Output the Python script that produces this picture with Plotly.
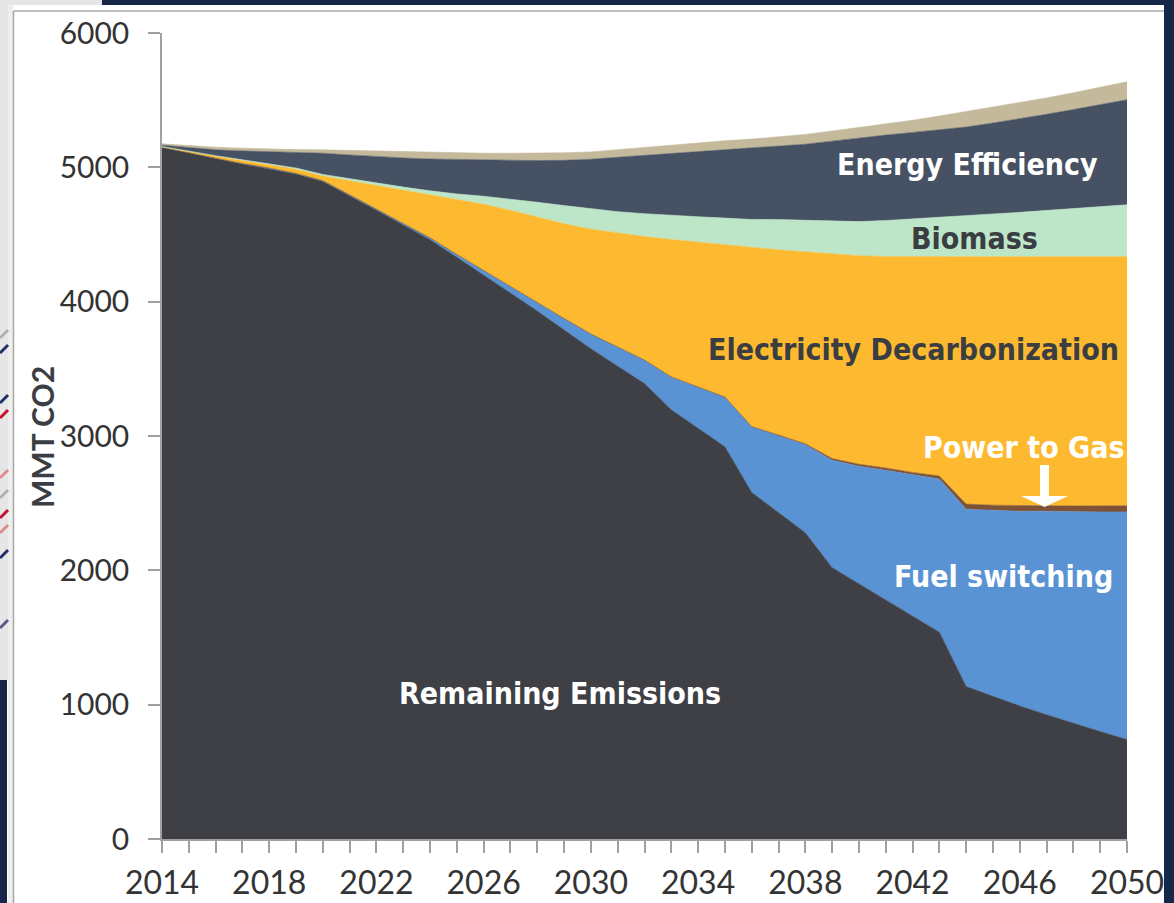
import plotly.graph_objects as go

years = list(range(2014, 2051))

remaining = [5150, 5105, 5065, 5025, 4990, 4950, 4895, 4790, 4680, 4570,
             4460, 4330, 4200, 4065, 3930, 3790, 3650, 3520, 3390, 3195,
             3060, 2920, 2580, 2430, 2280, 2020, 1900, 1780, 1660, 1540,
             1135, 1060, 990, 925, 860, 800, 740]
fuel_switching = [0, 2, 3, 4, 5, 5, 6, 6, 7, 10,
                  15, 22, 32, 45, 62, 85, 110, 140, 175, 245,
                  305, 370, 490, 570, 655, 800, 875, 965, 1050, 1140,
                  1320, 1385, 1450, 1515, 1575, 1635, 1695]
power_to_gas = [0, 0, 0, 0, 0, 0, 0, 0, 0, 0,
                0, 0, 0, 0, 0, 0, 0, 0, 0, 0,
                0, 0, 0, 4, 8, 12, 15, 17, 19, 22,
                38, 40, 42, 43, 44, 45, 46]
electricity = [2, 8, 14, 21, 25, 30, 34, 104, 178, 250,
               320, 408, 493, 570, 638, 705, 780, 850, 920, 1022,
               1077, 1132, 1332, 1382, 1428, 1524, 1552, 1575, 1606, 1633,
               1842, 1850, 1853, 1852, 1856, 1855, 1854]
biomass = [3, 4, 5, 6, 8, 10, 12, 15, 18, 23,
           30, 42, 60, 85, 110, 135, 150, 160, 170, 180,
           190, 200, 210, 225, 236, 245, 254, 267, 280, 292,
           305, 318, 330, 343, 355, 370, 386]
energy_efficiency = [10, 26, 43, 66, 87, 115, 158, 177, 197, 217,
                     237, 256, 270, 287, 310, 337, 370, 405, 435, 463,
                     488, 510, 533, 547, 565, 594, 624, 636, 645, 653,
                     660, 677, 695, 717, 740, 761, 782]
other = [10, 15, 20, 20, 20, 22, 25, 33, 40, 45,
         48, 49, 50, 53, 55, 56, 55, 57, 60, 63,
         65, 66, 65, 70, 73, 75, 75, 82, 90, 102,
         115, 117, 120, 122, 125, 130, 134]

series = [
    ("Remaining Emissions", remaining, "#3e4046"),
    ("Fuel switching", fuel_switching, "#5a93d4"),
    ("Power to Gas", power_to_gas, "#7f5236"),
    ("Electricity Decarbonization", electricity, "#fdba30"),
    ("Biomass", biomass, "#bde6c9"),
    ("Energy Efficiency", energy_efficiency, "#465163"),
    ("Other", other, "#c5b99c"),
]

fig = go.Figure()
for name, vals, col in series:
    fig.add_trace(go.Scatter(
        x=years, y=vals, name=name, mode="lines", stackgroup="one",
        line=dict(width=0.6, color=col), fillcolor=col, hoverinfo="x+y+name"))

W, H = 1174, 903
L, R, T, B = 162, 47, 33, 64
pw, ph = W - L - R, H - T - B


def px(x):
    return (x - L) / pw


def py(y):
    return (H - B - y) / ph


shapes = []
shapes.append(dict(type="rect", xref="paper", yref="paper", x0=px(0), x1=px(8), y0=py(680), y1=py(0),
                   fillcolor="#e6e6e6", line=dict(width=0), layer="below"))
shapes.append(dict(type="rect", xref="paper", yref="paper", x0=px(0), x1=px(7), y0=py(903), y1=py(680),
                   fillcolor="#16284a", line=dict(width=0), layer="below"))
shapes.append(dict(type="rect", xref="paper", yref="paper", x0=px(0), x1=px(102), y0=py(5), y1=py(0),
                   fillcolor="#e6e6e6", line=dict(width=0), layer="below"))
shapes.append(dict(type="rect", xref="paper", yref="paper", x0=px(102), x1=px(1174), y0=py(5), y1=py(0),
                   fillcolor="#16284a", line=dict(width=0), layer="below"))
shapes.append(dict(type="rect", xref="paper", yref="paper", x0=px(1164), x1=px(1174), y0=py(903), y1=py(0),
                   fillcolor="#16284a", line=dict(width=0), layer="below"))
shapes.append(dict(type="rect", xref="paper", yref="paper", x0=px(8), x1=px(13), y0=py(903), y1=py(5),
                   fillcolor="#eeeeee", line=dict(width=0), layer="below"))
shapes.append(dict(type="line", xref="paper", yref="paper", x0=px(13.5), x1=px(13.5), y0=py(903), y1=py(11),
                   line=dict(color="#a8a8a8", width=1.5), layer="below"))
shapes.append(dict(type="line", xref="paper", yref="paper", x0=px(13.5), x1=px(1164), y0=py(11), y1=py(11),
                   line=dict(color="#a8a8a8", width=1.5), layer="below"))
for y0, col in [(330, "#b0b0b0"), (345, "#22306a"), (395, "#22306a"), (410, "#c8102e"),
                (470, "#e08a8a"), (490, "#b0b0b0"), (510, "#c8102e"), (525, "#e08a8a"),
                (550, "#22306a"), (620, "#5a5a8a")]:
    shapes.append(dict(type="line", xref="paper", yref="paper", x0=px(0), x1=px(8), y0=py(y0 + 8), y1=py(y0),
                       line=dict(color=col, width=3), layer="below"))
shapes.append(dict(type="path", xref="paper", yref="paper",
                   path=("M {a},{b} L {c},{b} L {c},{d} L {e},{d} L {f},{g} L {h},{d} L {a2},{d} Z").format(
                       a=px(1040), b=py(465), c=px(1049), d=py(496), e=px(1068), f=px(1044.5), g=py(507),
                       h=px(1021), a2=px(1040)),
                   fillcolor="white", line=dict(width=0)))

lab_font = "DejaVu Sans Condensed, Liberation Sans Narrow, Liberation Sans, sans-serif"
annotations = [
    dict(text="<b>Energy Efficiency</b>", x=px(967), y=py(164), color="white", size=30),
    dict(text="<b>Biomass</b>", x=px(974), y=py(239), color="#3a3d42", size=30),
    dict(text="<b>Electricity Decarbonization</b>", x=px(913), y=py(349), color="#3a3d42", size=30),
    dict(text="<b>Power to Gas</b>", x=px(1024), y=py(448), color="white", size=30),
    dict(text="<b>Fuel switching</b>", x=px(1003), y=py(576), color="white", size=30),
    dict(text="<b>Remaining Emissions</b>", x=px(560), y=py(693), color="white", size=30),
]
ann = []
for a in annotations:
    ann.append(dict(text=a["text"], x=a["x"], y=a["y"], xref="paper", yref="paper",
                    showarrow=False, xanchor="center", yanchor="middle",
                    font=dict(family=lab_font, size=a["size"], color=a["color"])))
ann.append(dict(text="<b>MMT CO2</b>", x=px(42), y=py(437), xref="paper", yref="paper",
                showarrow=False, textangle=-90, xanchor="center", yanchor="middle",
                font=dict(family="Lato, Open Sans, sans-serif", size=30, color="#3a3d42")))

fig.update_layout(
    width=W, height=H,
    margin=dict(l=L, r=R, t=T, b=B, pad=0),
    paper_bgcolor="white", plot_bgcolor="white",
    showlegend=False,
    shapes=shapes, annotations=ann,
    xaxis=dict(range=[2014, 2050], tickmode="linear", tick0=2014, dtick=4,
               ticks="outside", ticklen=12, tickwidth=1.5, tickcolor="#a0a0a0",
               showline=True, linecolor="#a0a0a0", linewidth=1.5, showgrid=False, zeroline=False,
               minor=dict(dtick=1, tick0=2014, ticks="outside", ticklen=12, tickwidth=1.5,
                          tickcolor="#a0a0a0", showgrid=False),
               ticklabelstandoff=3, automargin=False,
               tickfont=dict(family="Lato, Open Sans, sans-serif", size=32, color="#333333")),
    yaxis=dict(range=[0, 6000], tickmode="linear", tick0=0, dtick=1000,
               ticks="outside", ticklen=12, tickwidth=1.5, tickcolor="#a0a0a0",
               showline=True, linecolor="#a0a0a0", linewidth=1.5,
               showgrid=True, gridcolor="#a0a0a0", gridwidth=1.5, zeroline=False,
               ticklabelstandoff=13, automargin=False,
               tickfont=dict(family="Lato, Open Sans, sans-serif", size=30, color="#333333")),
)

fig.write_html("out.html", config={"displayModeBar": False},
               post_script="document.body.style.margin='0';document.body.style.overflow='hidden';")
